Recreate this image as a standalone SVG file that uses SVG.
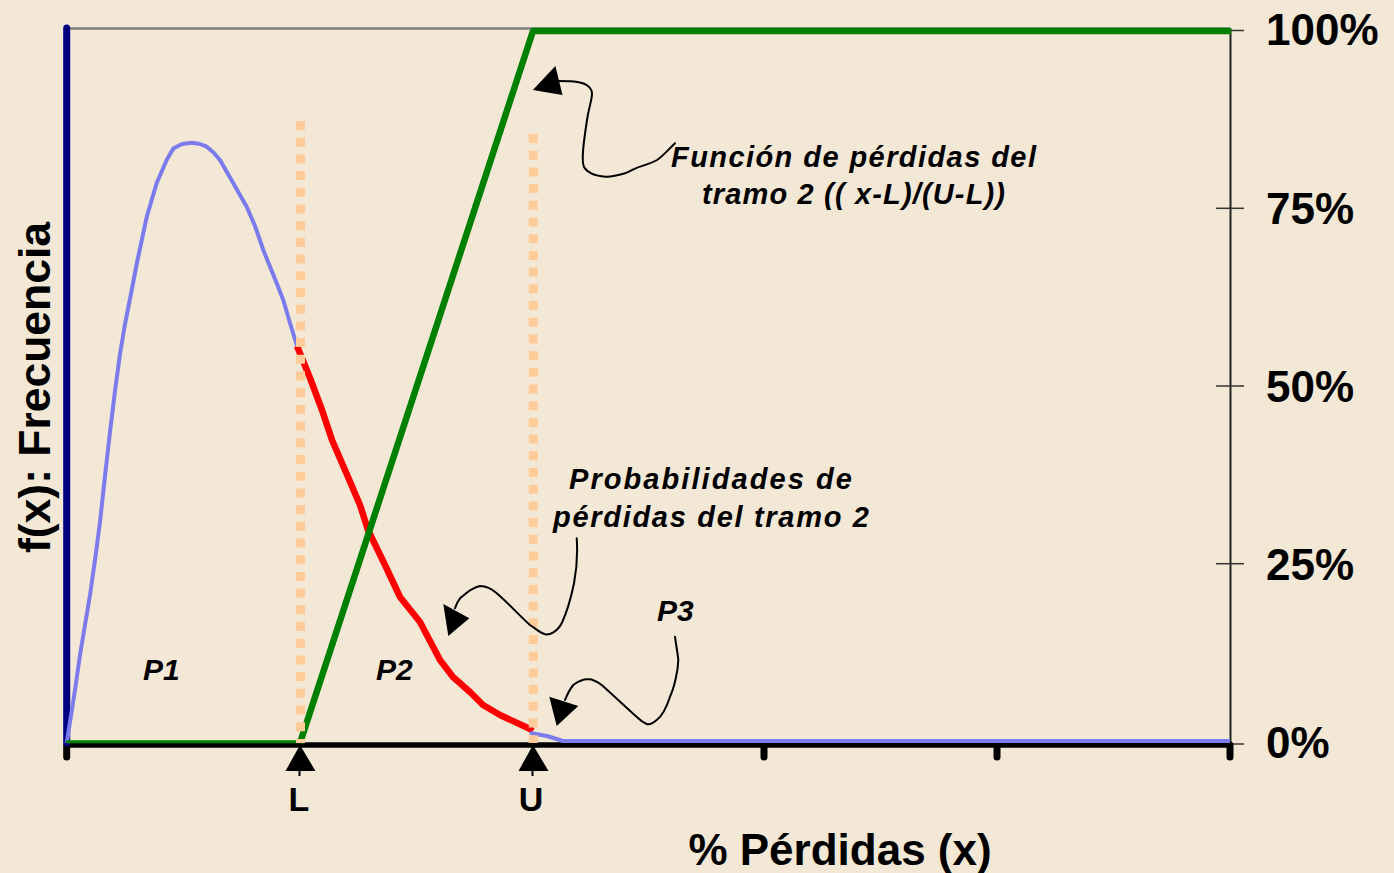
<svg xmlns="http://www.w3.org/2000/svg" width="1394" height="873" viewBox="0 0 1394 873">
<style>
.t{font-family:"Liberation Sans",Arial,sans-serif;font-weight:bold;fill:#000}
.ti{font-family:"Liberation Sans",Arial,sans-serif;font-weight:bold;font-style:italic;fill:#000}
.ann{fill:none;stroke:#000;stroke-width:2;stroke-linejoin:round;stroke-linecap:round}
.dot{fill:none;stroke:#FFCC99;stroke-width:9;stroke-dasharray:9 7.7}
.tick{stroke:#333;stroke-width:1.5}
.xt{stroke:#000;stroke-width:7;stroke-linecap:round}
</style>
<rect width="1394" height="873" fill="#F2E8D5"/>
<g id="axes">
<line x1="66" y1="28.5" x2="1230" y2="28.5" stroke="#808080" stroke-width="2.5"/>
<line x1="1230.5" y1="28.5" x2="1230.5" y2="744" stroke="#222" stroke-width="2"/>
<line class="tick" x1="1230" y1="30.5" x2="1244" y2="30.5"/>
<line class="tick" x1="1216" y1="208.3" x2="1244" y2="208.3"/>
<line class="tick" x1="1216" y1="386" x2="1244" y2="386"/>
<line class="tick" x1="1216" y1="563.7" x2="1244" y2="563.7"/>
<line class="tick" x1="1216" y1="744" x2="1244" y2="744"/>
<line x1="66" y1="745" x2="1230" y2="745" stroke="#000" stroke-width="5.5"/>
<line class="xt" x1="66.7" y1="745" x2="66.7" y2="757"/>
<line class="xt" x1="764" y1="745" x2="764" y2="757"/>
<line class="xt" x1="997" y1="745" x2="997" y2="757"/>
<line class="xt" x1="1230" y1="745" x2="1230" y2="757"/>
<line x1="66.7" y1="28" x2="66.7" y2="743" stroke="#000080" stroke-width="7" stroke-linecap="round"/>
</g>
<g id="curves">
<path d="M66.7,743 L70,722 L75,690 L80,655 L85,625 L90,595 L95,560 L100,522 L105,476 L110,432 L115,391 L120,354 L125,324 L130,299 L136.7,264 L146.7,217 L156.7,183 L166.7,160 L173.3,148.5 L182,144 L191.7,142.7 L200,144 L206.7,146.7 L213,152 L220,160 L233.3,183.3 L246.7,206.7 L255,226 L263.3,250 L276.7,283.3 L283.3,300 L290,323 L297,346" fill="none" stroke="#7B7BEE" stroke-width="4" stroke-linejoin="round"/>
<path d="M297,346 L310,378 L322,410 L332,440 L348,477 L360,505 L368,530 L385,565 L400,597 L420,622 L440,660 L453,677 L470,692 L483,705 L500,715 L528,728 L533,731" fill="none" stroke="#FF0000" stroke-width="6.5" stroke-linejoin="round"/>
<path d="M530,733 L547,736 L563,741 L590,741 L1230,741" fill="none" stroke="#7B7BEE" stroke-width="4" stroke-linejoin="round"/>
<line x1="66" y1="741.7" x2="300" y2="741.7" stroke="#008000" stroke-width="3"/>
<path d="M300,743 L533,31 L1231,31" fill="none" stroke="#008000" stroke-width="6.5" stroke-linejoin="round"/>
</g>
<g id="limits">
<line class="dot" x1="300.5" y1="121" x2="300.5" y2="743"/>
<line class="dot" x1="533.3" y1="134" x2="533.3" y2="743"/>
</g>
<g id="markers">
<polygon points="300,745 285.5,771 315.5,771"/>
<line x1="299.5" y1="770" x2="299.5" y2="776" stroke="#000" stroke-width="2"/>
<polygon points="533,745 518.5,771 548.5,771"/>
<line x1="532.5" y1="770" x2="532.5" y2="776" stroke="#000" stroke-width="2"/>
<text class="t" x="299" y="811" font-size="34" text-anchor="middle">L</text>
<text class="t" x="531" y="811" font-size="34" text-anchor="middle">U</text>
</g>
<g id="axis-labels">
<text class="t" x="1266" y="44.5" font-size="44">100%</text>
<text class="t" x="1266" y="224" font-size="44">75%</text>
<text class="t" x="1266" y="402" font-size="44">50%</text>
<text class="t" x="1266" y="580" font-size="44">25%</text>
<text class="t" x="1266" y="758" font-size="44">0%</text>
<text class="t" x="840" y="865" font-size="44" text-anchor="middle">% Pérdidas (x)</text>
<text class="t" font-size="44" transform="translate(50,553) rotate(-90)" textLength="331" lengthAdjust="spacingAndGlyphs">f(x): Frecuencia</text>
</g>
<g id="area-labels">
<text class="ti" x="143" y="680" font-size="30">P1</text>
<text class="ti" x="376" y="680" font-size="30">P2</text>
<text class="ti" x="657" y="621" font-size="30">P3</text>
</g>
<g id="note-funcion">
<text class="ti" x="671" y="167" font-size="29" textLength="365" lengthAdjust="spacing">Función de pérdidas del</text>
<text class="ti" x="702" y="204" font-size="29" textLength="303" lengthAdjust="spacing">tramo 2 (( x-L)/(U-L))</text>
</g>
<g id="note-prob">
<text class="ti" x="569" y="489" font-size="29" textLength="283" lengthAdjust="spacing">Probabilidades de</text>
<text class="ti" x="553" y="527" font-size="29" textLength="316" lengthAdjust="spacing">pérdidas del tramo 2</text>
</g>
<g id="connectors">
<path class="ann" d="M675,143.3 C668,150 662,157 657,160 C648,165 640,166 635.7,168.3 C630,171 628,172 625,173.3 C616,176 610,177 605.4,176.7 C596,176 588,174 584,167 C581,160 584,140 587,120 C590,100 596,92 588,86 C583,82 575,81 558,81"/>
<polygon points="532.9,90 555.4,66 562.5,95"/>
<path class="ann" d="M576.7,538.3 C577.5,550 577.5,565 574,583.3 C571,598 567,612 561.7,623.3 C557,632 550,635 545,634.3 C540,633 535,628 530,625 C522,618 505,600 496.7,593.3 C491,588 486,586 480,586 C473,587 466,593 460,598.3 C457,602 456,605 455,608.3"/>
<polygon points="443.3,604 469.3,618.3 448.3,636"/>
<path class="ann" d="M675,636.7 C676,645 678,655 678.3,660 C678,672 674,688 670,696.7 C667,706 662,716 656.7,720 C652,724 649,725 646.7,724 C642,722 640,720 638.3,718.3 C632,713 612,694 601.7,685 C596,681 592,679 588.3,679.3 C584,679 580,680 573.3,685 C570,689 567,695 565,700"/>
<polygon points="549.3,696.7 578.3,706 556.7,726"/>
</g>
</svg>
